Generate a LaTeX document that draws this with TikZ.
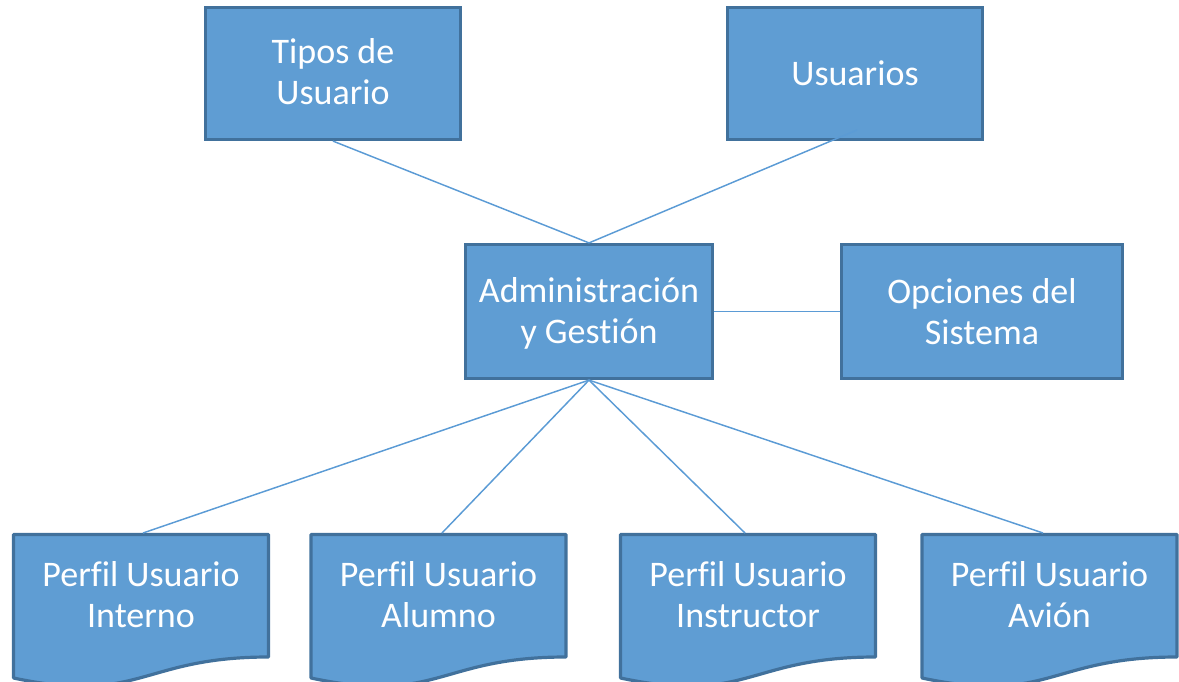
\documentclass[tikz,border=0pt]{standalone}
\usepackage{fontspec}
\setmainfont{Carlito}[Ligatures={NoCommon}]
\definecolor{boxfill}{HTML}{5F9DD3}
\definecolor{boxline}{HTML}{41719C}
\definecolor{linkcol}{HTML}{5B9BD5}
\tikzset{
  boxnode/.style={draw=boxline, fill=boxfill, line width=2.4pt, text=white,
    align=center, inner sep=0pt, font=\fontsize{27}{30.75}\selectfont},
  doctext/.style={text=white, align=center, inner sep=0pt,
    font=\fontsize{27}{30.75}\selectfont},
  docshape/.style={draw=boxline, fill=boxfill, line width=2.4pt, line join=round},
  link/.style={draw=linkcol, line width=1.1pt}
}
\newcommand{\docpath}[1]{%
  \path[docshape] (#1-127.5,534.5) -- (#1+127.5,534.5) -- (#1+127.5,657)
    .. controls (#1,657) and (#1,705) .. (#1-127.5,678) -- cycle;}
\begin{document}
\begin{tikzpicture}[x=0.75pt,y=-0.75pt]
\useasboundingbox (0,0) rectangle (1179,682);
% boxes
\node[boxnode, minimum width=255*0.75pt, minimum height=132*0.75pt] (tip) at (333,73.5) {};
\node[doctext] (tiptxt) at (333,71.5) {Tipos de\\Usuario};
\node[boxnode, minimum width=255*0.75pt, minimum height=132*0.75pt] (usu) at (855,73.5) {Usuarios};
\node[boxnode, minimum width=247*0.75pt, minimum height=134*0.75pt] (adm) at (589,311.5) {};
\node[doctext] (admtxt) at (589,313) {Administración\\y Gestión};
\node[boxnode, minimum width=281*0.75pt, minimum height=134*0.75pt] (opc) at (982,311.5) {Opciones del\\Sistema};
% documents
\docpath{141}
\docpath{438.5}
\docpath{748}
\docpath{1049.5}
\node[doctext] (d1) at (141,595) {Perfil Usuario\\Interno};
\node[doctext] (d2) at (438.5,595) {Perfil Usuario\\Alumno};
\node[doctext] (d3) at (748,595) {Perfil Usuario\\Instructor};
\node[doctext] (d4) at (1049.5,595) {Perfil Usuario\\Avión};
\coordinate (d1t) at (143,533);
\coordinate (d2t) at (442,533);
\coordinate (d3t) at (745,533);
\coordinate (d4t) at (1043,533);
\coordinate (usuin) at (857,130);
% connectors
\draw[link] (tip.south) -- (adm.north);
\draw[link] (usuin) -- (adm.north);
\draw[link] (adm.east) -- (opc.west);
\draw[link] (adm.south) -- (d1t);
\draw[link] (adm.south) -- (d2t);
\draw[link] (adm.south) -- (d3t);
\draw[link] (adm.south) -- (d4t);
\end{tikzpicture}
\end{document}
